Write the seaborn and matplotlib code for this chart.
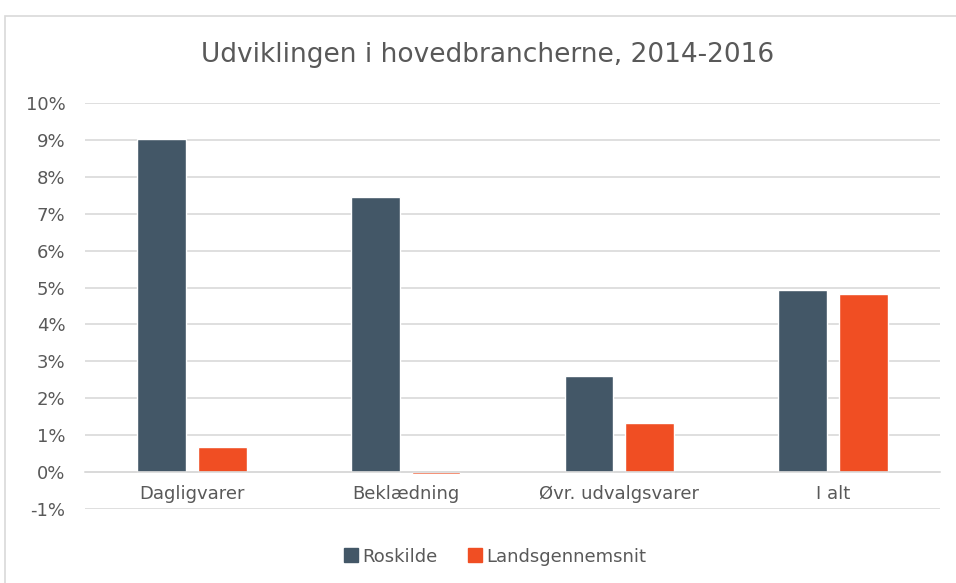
import pandas as pd
import seaborn as sns
import matplotlib.pyplot as plt
from matplotlib.patches import Rectangle
from matplotlib.ticker import PercentFormatter

# data (share change, 2014-2016)
categories = ["Dagligvarer", "Beklædning", "Øvr. udvalgsvarer", "I alt"]
roskilde = [0.0902, 0.0745, 0.0260, 0.0493]
landsgennemsnit = [0.0068, -0.0005, 0.0133, 0.0482]
series = ["Roskilde", "Landsgennemsnit"]
colors = ["#435767", "#F04E23"]

df = pd.DataFrame({
    "kategori": categories * 2,
    "serie": [series[0]] * 4 + [series[1]] * 4,
    "vaerdi": roskilde + landsgennemsnit,
})

sns.set_style("white")
plt.rcParams["font.family"] = ["DejaVu Sans"]
plt.rcParams["axes.unicode_minus"] = False
text_col = "#595959"

fig = plt.figure(figsize=(9.56, 5.83), dpi=100)
ax = fig.add_axes([0.0889, 0.1269, 0.8944, 0.6964])

sns.barplot(data=df, x="kategori", y="vaerdi", hue="serie", palette=colors,
            width=0.57, gap=0.2, ax=ax, legend=False, saturation=1)

ax.set_ylim(-0.01, 0.10)
ax.set_yticks([i / 100 for i in range(-1, 11)])
ax.yaxis.set_major_formatter(PercentFormatter(1.0, decimals=0))
ax.grid(axis="y", color="#D9D9D9", linewidth=1.2)
ax.set_axisbelow(True)
ax.set_xlim(-0.5, 3.5)

for s in ["top", "right", "left"]:
    ax.spines[s].set_visible(False)
ax.spines["bottom"].set_position(("data", 0))
ax.spines["bottom"].set_color("#D9D9D9")
ax.spines["bottom"].set_linewidth(1.2)

ax.tick_params(axis="both", length=0, labelsize=13, labelcolor=text_col)
ax.tick_params(axis="y", pad=14)
ax.tick_params(axis="x", pad=9)
ax.set_xlabel("")
ax.set_ylabel("")

fig.text(0.51, 0.906, "Udviklingen i hovedbrancherne, 2014-2016",
         ha="center", va="center", fontsize=19, color=text_col)

handles = [plt.Line2D([], [], marker="s", linestyle="", markersize=10,
                      color=c) for c in colors]
fig.legend(handles, series, loc="center", bbox_to_anchor=(0.517, 0.045),
           ncol=2, frameon=False, fontsize=13, labelcolor=text_col,
           handletextpad=0.1, columnspacing=1.6, handlelength=1.0)

fig.patches.append(Rectangle((0.0052, -0.1), 1.2, 0.9726 + 0.1,
                             transform=fig.transFigure, fill=False,
                             edgecolor="#D9D9D9", linewidth=1.2))

fig.savefig("out.png", dpi=100)
